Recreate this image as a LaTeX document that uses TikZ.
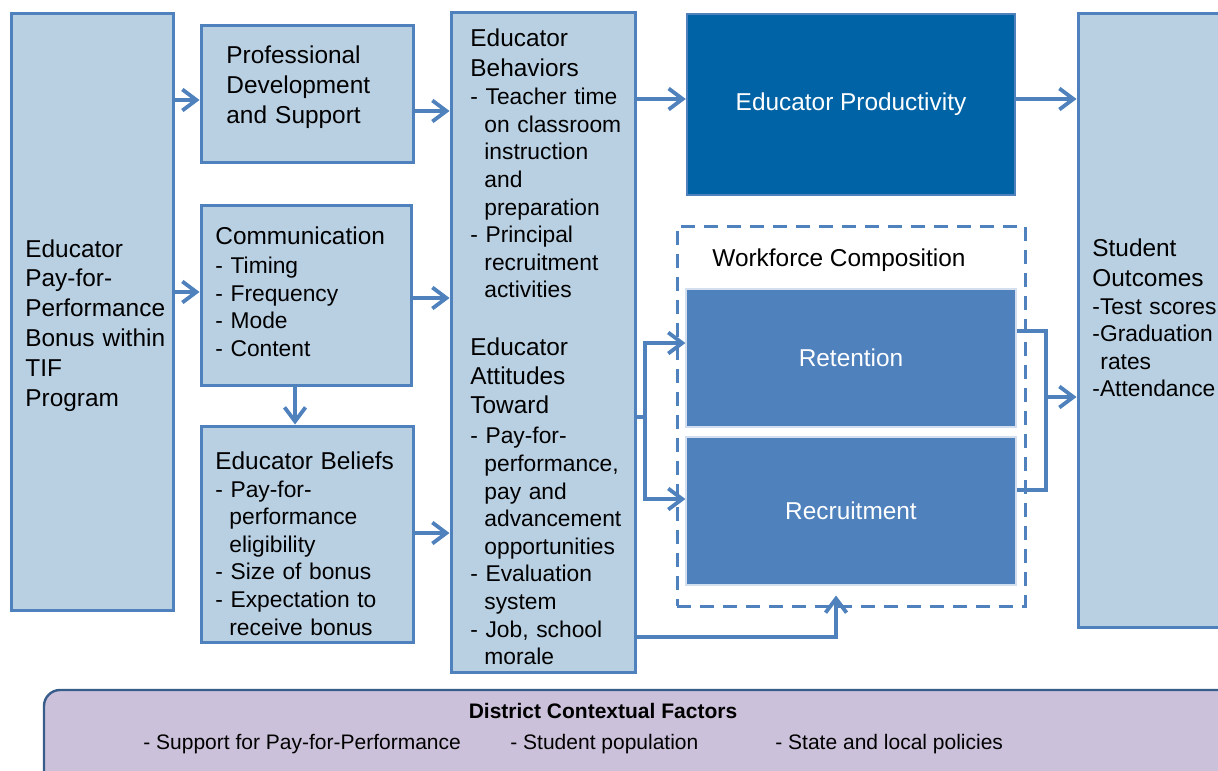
\documentclass[tikz,border=0pt]{standalone}
\usepackage{fontspec}
\setmainfont{Liberation Sans}
\usetikzlibrary{arrows.meta}
\definecolor{lineblue}{RGB}{79,129,189}
\definecolor{boxfill}{RGB}{185,208,227}
\definecolor{prodblue}{RGB}{0,99,166}
\definecolor{ctxfill}{RGB}{204,193,218}
\definecolor{ctxline}{RGB}{56,93,138}
\newcommand{\subind}{\hspace*{7pt}}
\newcommand{\hd}[1]{{\fontsize{12.2pt}{13.8pt}\selectfont #1}}

\begin{document}
\begin{tikzpicture}[x=0.5pt,y=-0.5pt,
    box/.style={draw=lineblue, fill=boxfill, line width=1.5pt, inner sep=0pt},
    prodbox/.style={draw=lineblue, fill=prodblue, line width=1.2pt, text=white,
        font=\fontsize{12.2pt}{13.8pt}\selectfont},
    wbox/.style={draw=white!75!lineblue, fill=lineblue, line width=0.6pt, text=white,
        font=\fontsize{12.2pt}{13.8pt}\selectfont},
    wfbox/.style={draw=lineblue, line width=1.5pt, dash pattern=on 7pt off 4.5pt},
    ctxbox/.style={draw=ctxline, fill=ctxfill, line width=1.2pt, rounded corners=8pt},
    txt/.style={anchor=base west, inner sep=0pt, text width=100pt, align=left,
        font=\fontsize{11.4pt}{13.8pt}\selectfont},
    lbl/.style={anchor=base west, inner sep=0pt, font=\fontsize{12.2pt}{13.8pt}\selectfont},
    small/.style={anchor=base west, inner sep=0pt, font=\fontsize{10.5pt}{12pt}\selectfont},
    conn/.style={draw=lineblue, line width=1.9pt},
    arr/.style={conn, -{Straight Barb[length=7pt,width=10.5pt]}}]

        \useasboundingbox (0,0) rectangle (1218,770);
        \clip (0,0) rectangle (1218,770);

        \node[box, minimum width=81pt, minimum height=298pt] (bonus) at (92,312) {};
        \node[txt, font=\fontsize{12.2pt}{14.9pt}\selectfont] (bonus-t) at (25,257)
            {Educator\\Pay-for-\\Performance\\Bonus within\\TIF\\Program};

        \node[box, minimum width=106pt, minimum height=68.5pt] (pd) at (307,94.5) {};
        \node[txt, font=\fontsize{12.2pt}{15pt}\selectfont] (pd-t) at (226,63.5)
            {Professional\\Development\\and Support};

        \node[box, minimum width=105pt, minimum height=90pt] (comm) at (306,295) {};
        \node[txt] (comm-t) at (215,244.5)
            {\hd{Communication}\\[0.7pt]- Timing\\- Frequency\\- Mode\\- Content};

        \node[box, minimum width=106pt, minimum height=108pt] (belief) at (307,534) {};
        \node[txt] (belief-t) at (215,469.5)
            {\hd{Educator Beliefs}\\- Pay-for-\\\subind performance\\\subind eligibility\\- Size of bonus\\- Expectation to\\\subind receive bonus};

        \node[box, minimum width=92pt, minimum height=329.5pt] (behav) at (543,342.5) {};
        \node[txt] (behav-t) at (470,46.5)
            {\hd{Educator}\\[1.2pt]\hd{Behaviors}\\[0.3pt]- Teacher time\\\subind on classroom\\\subind instruction\\\subind and\\\subind preparation\\- Principal\\\subind recruitment\\\subind activities};
        \node[txt] (att-t) at (470,355.5)
            {\hd{Educator}\\[0.8pt]\hd{Attitudes}\\[0.8pt]\hd{Toward}\\[1.2pt]- Pay-for-\\\subind performance,\\\subind pay and\\\subind advancement\\\subind opportunities\\- Evaluation\\\subind system\\- Job, school\\\subind morale};

        \node[prodbox, minimum width=164pt, minimum height=90.5pt] (prod) at (851,104.5) {Educator Productivity};

        \node[wfbox, minimum width=174pt, minimum height=190pt] (wf) at (851,416) {};
        \node[lbl] (wf-t) at (712,266.5) {Workforce Composition};
        \node[wbox, minimum width=165pt, minimum height=69pt] (ret) at (851,358) {Retention};
        \node[wbox, minimum width=165pt, minimum height=74pt] (rec) at (851,511) {Recruitment};

        \node[box, minimum width=81pt, minimum height=306.5pt] (outc) at (1159,320.5) {};
        \node[txt] (outc-t) at (1092,256.5)
            {\hd{Student}\\[1.2pt]\hd{Outcomes}\\-Test scores\\-Graduation\\\hspace*{4pt}rates\\-Attendance};

        \node[ctxbox, minimum width=598pt, minimum height=55pt] (ctx) at (642,745) {};
        \node[anchor=base, inner sep=0pt, font=\bfseries\fontsize{10.5pt}{12pt}\selectfont] (ctx-t) at (603,718.5) {District Contextual Factors};
        \node[small] (ctx-a) at (143,749.5) {- Support for Pay-for-Performance};
        \node[small] (ctx-b) at (510,749.5) {- Student population};
        \node[small] (ctx-c) at (775,749.5) {- State and local policies};

        \draw[arr] (bonus.east |- 0,100) -- (pd.west |- 0,100);
        \draw[arr] (bonus.east |- 0,292) -- (comm.west |- 0,292);
        \draw[arr] (pd.east |- 0,111) -- (behav.west |- 0,111);
        \draw[arr] (comm.east |- 0,298) -- (behav.west |- 0,298);
        \draw[arr] (comm.south -| 295,0) -- (belief.north -| 295,0);
        \draw[arr] (belief.east |- 0,533) -- (behav.west |- 0,533);
        \draw[arr] (behav.east |- 0,99) -- (prod.west |- 0,99);
        \draw[arr] (prod.east |- 0,99) -- (outc.west |- 0,99);

        \coordinate (fork) at (645,417);
        \draw[arr] (behav.east |- fork) -- (fork) |- ([yshift=7.5pt]ret.west);
        \draw[arr] (fork) |- ([yshift=6pt]rec.west);
        \draw[arr] (behav.east |- 0,637) -| ([xshift=-7.5pt,yshift=6pt]wf.south);

        \coordinate (join) at (1046,397);
        \draw[conn] ([yshift=13.5pt]ret.east) -| (join) |- ([yshift=10.5pt]rec.east);
        \draw[arr] (join) -- (outc.west |- join);
    \end{tikzpicture}
\end{document}
